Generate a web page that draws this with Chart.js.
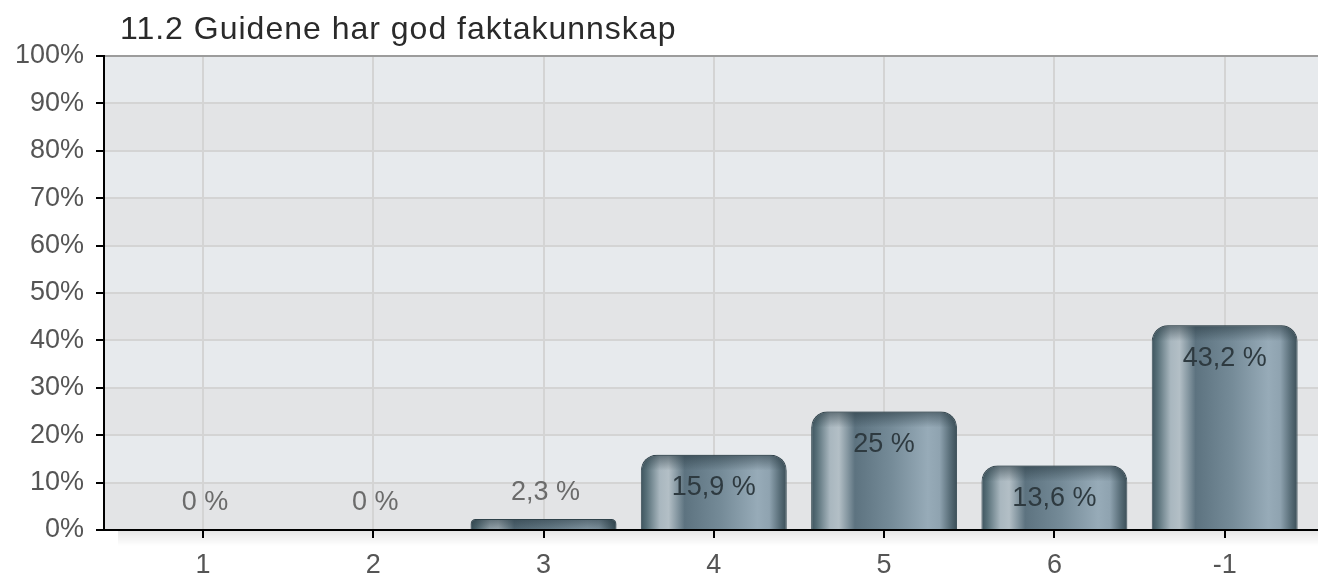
<!DOCTYPE html>
<html>
<head>
<meta charset="utf-8">
<script src="https://cdn.jsdelivr.net/npm/chart.js@4"></script>
<style>
  html, body { margin: 0; padding: 0; background: #fff; }
  canvas { display: block; }
</style>
</head>
<body>
<canvas id="chart" width="1318" height="578"></canvas>
<script>
const chartTitle = '11.2 Guidene har god faktakunnskap';
const categories = ['1', '2', '3', '4', '5', '6', '-1'];
const percents = [0, 0, 2.3, 15.9, 25, 13.6, 43.2];
const yTickValues = [0, 10, 20, 30, 40, 50, 60, 70, 80, 90, 100];

const FONT = '"Liberation Sans", Arial, Helvetica, sans-serif';
const BAR_PCT = 0.857;

// horizontal "cylinder" shading of the bars
function barFill(c) {
    const xs = c.chart.scales.x;
    if (!xs || c.type !== 'data') return '#6d838f';
    const cx = xs.getPixelForValue(c.raw.x);
    const w = (xs.getPixelForValue(2) - xs.getPixelForValue(1)) * BAR_PCT;
    if (!isFinite(cx) || !isFinite(w)) return '#6d838f';
    const g = c.chart.ctx.createLinearGradient(cx - w / 2, 0, cx + w / 2, 0);
    g.addColorStop(0.00, '#3e545e');
    g.addColorStop(0.04, '#587079');
    g.addColorStop(0.13, '#a9b7bf');
    g.addColorStop(0.19, '#b3bfc6');
    g.addColorStop(0.25, '#8597a1');
    g.addColorStop(0.30, '#5d7380');
    g.addColorStop(0.55, '#758b98');
    g.addColorStop(0.80, '#97abb8');
    g.addColorStop(0.88, '#8fa3b0');
    g.addColorStop(0.95, '#5a6f7a');
    g.addColorStop(1.00, '#3b4e57');
    return g;
}

// alternating background bands behind the plot
const bands = {
    id: 'bands',
    beforeDraw(chart) {
        const { ctx, chartArea: a, scales: { y } } = chart;
        ctx.save();
        for (let i = 0; i < yTickValues.length - 1; i++) {
            const top = y.getPixelForValue(yTickValues[i + 1]);
            const bot = y.getPixelForValue(yTickValues[i]);
            ctx.fillStyle = i % 2 ? '#e7eaed' : '#e3e4e6';
            ctx.fillRect(a.left, top, a.right - a.left, bot - top);
        }
        // soft shadow under the x axis
        const g = ctx.createLinearGradient(0, a.bottom, 0, a.bottom + 16);
        g.addColorStop(0, 'rgba(0,0,0,0.10)');
        g.addColorStop(1, 'rgba(0,0,0,0)');
        ctx.fillStyle = g;
        ctx.fillRect(a.left + 14, a.bottom, a.right - a.left - 14, 16);
        ctx.restore();
    }
};

// darker cap at the top of every bar + value labels
const barExtras = {
    id: 'barExtras',
    afterDatasetsDraw(chart) {
        const ctx = chart.ctx;
        const meta = chart.getDatasetMeta(0);
        ctx.save();
        meta.data.forEach((el, i) => {
            const p = el.getProps(['x', 'y', 'base', 'width'], true);
            const v = percents[i];
            const h = p.base - p.y;
            if (v > 0 && h > 0) {
                const left = p.x - p.width / 2;
                const r = Math.min(16, h / 2, p.width / 2);
                ctx.save();
                ctx.beginPath();
                ctx.roundRect(left, p.y, p.width, h, [r, r, 0, 0]);
                ctx.clip();
                const g = ctx.createLinearGradient(0, p.y, 0, p.y + 16);
                g.addColorStop(0, 'rgba(35,52,60,0.55)');
                g.addColorStop(1, 'rgba(35,52,60,0)');
                ctx.fillStyle = g;
                ctx.fillRect(left, p.y, p.width, Math.min(16, h));
                ctx.restore();
            }
            const txt = String(v).replace('.', ',') + ' %';
            ctx.font = '27px ' + FONT;
            ctx.textAlign = 'center';
            ctx.textBaseline = 'middle';
            if (v < 5) {
                ctx.fillStyle = '#6b6b6b';
                ctx.fillText(txt, p.x + 2, p.y - 27);
            } else {
                ctx.fillStyle = '#2e3a40';
                ctx.fillText(txt, p.x, p.y + 33);
            }
        });
        ctx.restore();
    }
};

const titleText = {
    id: 'titleText',
    afterDraw(chart) {
        const ctx = chart.ctx;
        ctx.save();
        ctx.font = '32px ' + FONT;
        ctx.letterSpacing = '1px';
        ctx.fillStyle = '#2a2a2a';
        ctx.textAlign = 'left';
        ctx.textBaseline = 'alphabetic';
        ctx.fillText(chartTitle, 120, 39);
        ctx.restore();
    }
};

const ctx = document.getElementById('chart').getContext('2d');
const chart = new Chart(ctx, {
    type: 'bar',
    data: {
        datasets: [{
            data: percents.map((v, i) => ({ x: i + 1, y: v })),
            backgroundColor: barFill,
            borderColor: '#3b4e57',
            borderWidth: c => (c.raw && c.raw.y > 0 ? 1 : 0),
            borderRadius: { topLeft: 16, topRight: 16, bottomLeft: 0, bottomRight: 0 },
            borderSkipped: 'bottom',
            barPercentage: BAR_PCT,
            categoryPercentage: 1
        }]
    },
    options: {
        responsive: false,
        animation: false,
        layout: { padding: { top: 56, left: 0, right: 0, bottom: 0 } },
        plugins: {
            legend: { display: false },
            tooltip: { enabled: false },
            title: { display: false }
        },
        scales: {
            x: {
                type: 'linear',
                offset: false,
                min: 0.419,
                max: 7.548,
                afterBuildTicks: axis => {
                    axis.ticks = categories.map((c, i) => ({ value: i + 1 }));
                },
                afterFit: s => { s.height = 48; },
                ticks: {
                    callback: v => categories[v - 1],
                    font: { size: 27, family: FONT },
                    color: '#555',
                    padding: 11,
                    autoSkip: false,
                    maxRotation: 0
                },
                grid: { offset: false, color: '#d4d4d4', lineWidth: 2, tickColor: '#000', tickLength: 8, tickWidth: 2 },
                border: { color: '#000', width: 2 }
            },
            y: {
                min: 0,
                max: 100,
                afterBuildTicks: axis => {
                    axis.ticks = yTickValues.map(v => ({ value: v }));
                },
                afterFit: s => { s.width = 104; },
                ticks: {
                    callback: v => v + '%',
                    font: { size: 27, family: FONT },
                    color: '#555',
                    padding: 12
                },
                grid: {
                    color: c => (c.tick && c.tick.value === 100 ? '#9c9c9c' : '#d4d4d4'),
                    lineWidth: 2,
                    tickColor: '#000',
                    tickLength: 8,
                    tickWidth: 2
                },
                border: { color: '#000', width: 2 }
            }
        }
    },
    plugins: [bands, barExtras, titleText]
});
</script>
</body>
</html>
